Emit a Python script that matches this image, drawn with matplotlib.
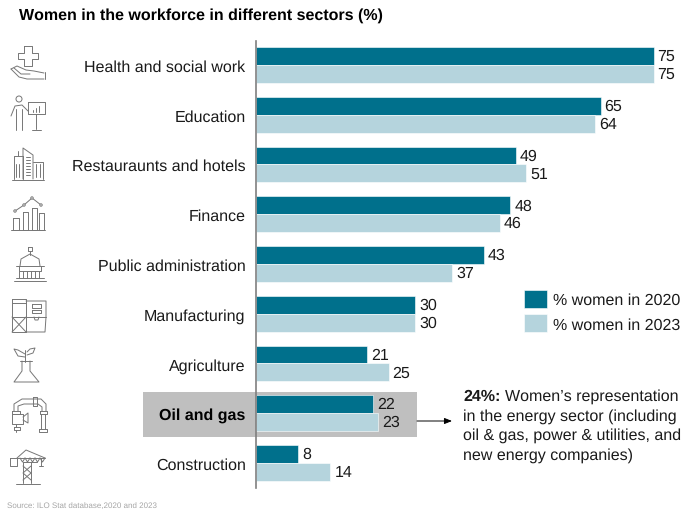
import matplotlib
matplotlib.use("Agg")
import matplotlib.pyplot as plt
from matplotlib.patches import Circle, Rectangle

plt.rcParams['font.family'] = ['Liberation Sans', 'DejaVu Sans']
plt.rcParams['text.hinting'] = 'no_hinting'
plt.rcParams['text.hinting_factor'] = 1

sectors = ['Health and social work', 'Education', 'Restauraunts and hotels', 'Finance',
           'Public administration', 'Manufacturing', 'Agriculture', 'Oil and gas', 'Construction']
women_2020 = [75, 65, 49, 48, 43, 30, 21, 22, 8]
women_2023 = [75, 64, 51, 46, 37, 30, 25, 23, 14]

DARK = '#00708C'
LIGHT = '#B5D4DD'
ICON = '#767676'
INK = '#1a1a1a'
FS = 11.55
W, H = 683, 510

fig = plt.figure(figsize=(W / 100, H / 100), dpi=100, facecolor='white')

# overlay in pixel coordinates, for the highlight, icons and notes
bg = fig.add_axes([0, 0, 1, 1], zorder=0)
bg.set_xlim(0, W)
bg.set_ylim(H, 0)
bg.axis('off')

ax = fig.add_axes([256 / W, 1 - 489 / H, (W - 256) / W, (489 - 42) / H], zorder=1)
ax.patch.set_alpha(0)
ax.set_xlim(0, (W - 256) / 5.3)
ax.set_ylim(8.503, -0.482)

bar_h = 0.36
pos = list(range(len(sectors)))
b1 = ax.barh([p - bar_h / 2 for p in pos], women_2020, bar_h, color=DARK, edgecolor='white',
             linewidth=0.4, label='% women in 2020')
b2 = ax.barh([p + bar_h / 2 for p in pos], women_2023, bar_h, color=LIGHT, edgecolor='white',
             linewidth=0.4, label='% women in 2023')
ax.bar_label(b1, padding=3, fontsize=FS, color=INK)
ax.bar_label(b2, padding=3, fontsize=FS, color=INK)

ax.set_yticks(pos)
ax.set_yticklabels(sectors, fontsize=FS, color=INK)
ax.tick_params(axis='y', length=0, pad=7.5)
ax.get_yticklabels()[7].set_fontweight('bold')
ax.get_yticklabels()[7].set_color('black')
ax.xaxis.set_visible(False)
for s in ['top', 'right', 'bottom']:
    ax.spines[s].set_visible(False)
ax.spines['left'].set_color('#7F7F7F')
ax.spines['left'].set_linewidth(1.2)

ax.legend(handles=[b1, b2], loc='upper left', bbox_to_anchor=(0.627, 0.4437), frameon=False,
          fontsize=FS, handlelength=1.45, handleheight=1.354, handletextpad=0.38,
          labelspacing=0.39, borderpad=0, borderaxespad=0, labelcolor=INK)

# highlight behind the oil and gas row
bg.add_patch(Rectangle((143, 393), 274, 45, color='#BFBFBF', lw=0))

bg.annotate('', xy=(452, 422), xytext=(417, 422),
            arrowprops=dict(arrowstyle='-|>,head_length=0.45,head_width=0.18', color='black', lw=0.7,
                            shrinkA=0, shrinkB=0))
bg.text(463, 397, '24%:', fontsize=FS, fontweight='bold', va='center', color=INK)
bg.text(505, 397, 'Women\u2019s representation', fontsize=FS, va='center', color=INK)
bg.text(463, 417, 'in the energy sector (including', fontsize=FS, va='center', color=INK)
bg.text(463, 436, 'oil & gas, power & utilities, and', fontsize=FS, va='center', color=INK)
bg.text(463, 456, 'new energy companies)', fontsize=FS, va='center', color=INK)

bg.text(19, 16, 'Women in the workforce in different sectors (%)', fontsize=11.66, fontweight='bold',
        va='center', color='black')
bg.text(7, 506, 'Source: ILO Stat database,2020 and 2023', fontsize=5.8, va='center', color='#A6A6A6')


def pl(*pts):
    xs, ys = zip(*pts)
    bg.plot(xs, ys, color=ICON, lw=0.7, solid_capstyle='round', solid_joinstyle='round')


def box(x0, y0, x1, y1):
    pl((x0, y0), (x1, y0), (x1, y1), (x0, y1), (x0, y0))


# health: cross over an open hand
pl((24, 47), (32, 47), (32, 54), (38, 54), (38, 60), (32, 60), (32, 67), (24, 67), (24, 60), (18, 60),
   (18, 54), (24, 54), (24, 47))
pl((11, 70), (17, 67), (26, 71), (34, 72), (44, 74))
pl((11, 70), (19, 78), (27, 80), (44, 80))
pl((14, 69), (21, 75), (30, 75))
pl((45, 73), (45, 80))

# education: presenter and board
bg.add_patch(Circle((19, 100), 3, fill=False, ec=ICON, lw=0.7))
pl((11, 117), (15, 107), (22, 106), (28, 112))
pl((16, 110), (16, 131))
pl((22, 110), (22, 131))
box(28, 103, 45, 115)
pl((36, 115), (36, 130))
pl((32, 131), (41, 131))
pl((33, 113), (33, 111))
pl((36, 113), (36, 109))
pl((39, 113), (39, 107))

# restaurants and hotels: tower block
pl((12, 181), (44, 181))
pl((14, 180), (14, 157), (23, 157), (23, 180))
pl((23, 180), (23, 149), (33, 156), (33, 180))
pl((33, 163), (43, 163), (43, 180))
pl((18, 157), (18, 152))
for x in (16, 19, 36, 40):
    pl((x, 165), (x, 178))
for y in range(158, 178, 3):
    pl((26, y), (30, y))

# finance: columns and a trend line
pl((11, 231), (45, 231))
box(13, 219, 19, 231)
box(23, 213, 28, 231)
box(32, 209, 37, 231)
box(39, 214, 44, 231)
pl((15, 212), (24, 206), (32, 199), (41, 206))
for p in [(15, 212), (24, 206), (32, 199), (41, 206)]:
    bg.add_patch(Circle(p, 1.2, fc='white', ec=ICON, lw=0.7, zorder=3))

# public administration: domed building
box(28, 248, 32, 252)
pl((30, 252), (30, 256))
pl((20, 267), (21, 260), (30, 255), (39, 260), (40, 267))
pl((16, 267), (44, 267))
pl((19, 267), (19, 272), (41, 272), (41, 267))
pl((14, 282), (46, 282))
pl((16, 279), (44, 279))
for x in range(19, 43, 4):
    pl((x, 272), (x, 279))

# manufacturing: silo and plant
box(12, 300, 26, 304)
pl((12, 304), (12, 333), (26, 333), (26, 304))
pl((12, 318), (26, 333))
pl((26, 318), (12, 333))
pl((12, 318), (26, 318))
pl((26, 302), (46, 302), (46, 318), (45, 333), (26, 333))
pl((26, 318), (46, 318))
box(32, 305, 41, 309)
box(32, 311, 41, 314)
pl((34, 318), (35, 321), (38, 321), (39, 318))

# agriculture: seedling in a flask
pl((25, 363), (25, 351))
pl((25, 355), (18, 351), (14, 350), (18, 357), (25, 358))
pl((27, 353), (30, 350), (35, 349), (33, 354), (27, 356))
pl((22, 362), (22, 372), (14, 383), (39, 383), (30, 372), (30, 362))
pl((20, 362), (32, 362))

# oil and gas: pipework
pl((14, 412), (14, 405), (22, 400), (41, 400), (46, 405), (46, 412))
pl((18, 412), (18, 407), (24, 405), (38, 405), (42, 408), (42, 412))
box(33, 398, 37, 407)
box(12, 412, 20, 415)
box(40, 412, 47, 415)
pl((41, 415), (41, 430))
pl((45, 415), (45, 430))
box(39, 430, 47, 433)
box(12, 415, 23, 425)
pl((23, 418), (28, 414), (28, 424), (23, 421))
box(14, 428, 20, 431)
pl((16, 425), (16, 428))
pl((16, 431), (16, 433))

# construction: tower crane
pl((10, 459), (10, 467), (17, 467), (17, 459), (10, 459))
pl((17, 459), (45, 459))
pl((17, 459), (26, 451), (45, 459))
pl((23, 463), (37, 463))
pl((23, 463), (23, 484))
pl((31, 463), (31, 484))
pl((23, 467), (31, 474), (23, 481))
pl((31, 467), (23, 474), (31, 481))
pl((16, 485), (40, 485))
pl((41, 459), (41, 467))
pl((39, 467), (43, 467))
for x in range(20, 43, 5):
    pl((x, 459), (x + 2.5, 463), (x + 5, 459))

fig.savefig('out.png', dpi=100)
